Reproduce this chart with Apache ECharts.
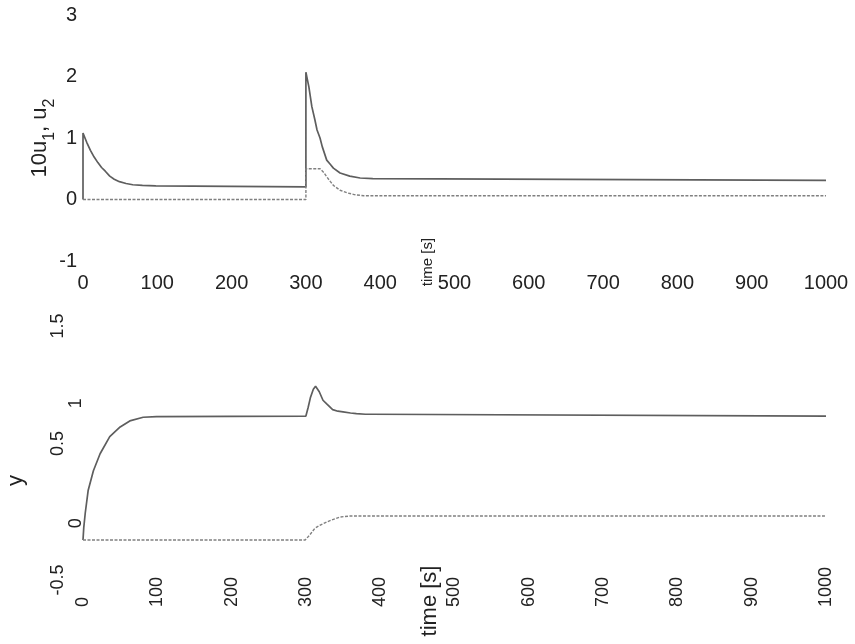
<!DOCTYPE html>
<html>
<head>
<meta charset="utf-8">
<script src="https://cdn.jsdelivr.net/npm/echarts@6/dist/echarts.min.js"></script>
<style>
html,body{margin:0;padding:0;background:#fff;}
#chart{width:855px;height:644px;}
</style>
</head>
<body>
<div id="chart"></div>
<script>
// ---- data ----
const xTicks = [0, 100, 200, 300, 400, 500, 600, 700, 800, 900, 1000];
const topYTicks = [-1, 0, 1, 2, 3];
const botYTicks = [-0.5, 0, 0.5, 1, 1.5];

// top panel, solid: 10*u1
const tTopSolid = [0, 0, 5, 10, 15, 20, 25, 30, 36, 42, 49, 58, 67, 80, 98, 100, 300, 300, 302, 304, 308, 312, 315, 319, 322, 328, 333, 337, 346, 359, 373, 390, 392, 1000];
const vTopSolid = [0, 1.08, 0.93, 0.80, 0.69, 0.60, 0.52, 0.46, 0.38, 0.33, 0.29, 0.26, 0.24, 0.23, 0.22, 0.205, 0.205, 2.07, 1.95, 1.83, 1.51, 1.30, 1.13, 1.00, 0.86, 0.64, 0.57, 0.51, 0.43, 0.38, 0.35, 0.34, 0.31, 0.31];

// top panel, dashed: u2
const tTopDash = [0, 300, 300, 319, 324, 328, 333, 337, 346, 355, 365, 378, 1000];
const vTopDash = [0, 0, 0.50, 0.50, 0.44, 0.37, 0.29, 0.23, 0.15, 0.11, 0.08, 0.06, 0.06];

// bottom panel, solid: y
const tBotSolid = [0, 1, 3, 7, 14, 23, 36, 50, 63, 81, 99, 100, 300, 303, 306, 310, 313, 318, 323, 328, 336, 343, 350, 360, 368, 380, 388, 390, 1000];
const vBotSolid = [-0.22, -0.12, 0.0, 0.19, 0.35, 0.49, 0.63, 0.71, 0.76, 0.79, 0.795, 0.80, 0.80, 0.87, 0.95, 1.02, 1.045, 1.00, 0.93, 0.90, 0.853, 0.84, 0.834, 0.825, 0.82, 0.815, 0.815, 0.80, 0.80];

// bottom panel, dashed
const tBotDash = [0, 299, 305, 312, 320, 328, 337, 346, 359, 1000];
const vBotDash = [-0.22, -0.22, -0.18, -0.124, -0.095, -0.072, -0.05, -0.031, -0.023, -0.023];

const pairs = (ts, vs) => ts.map((t, i) => [t, vs[i]]);

const FONT = 'Liberation Sans, Arial, sans-serif';
const TXT = '#222';

const chart = echarts.init(document.getElementById('chart'), null, {renderer: 'canvas'});

const hiddenAxisParts = {
  axisLine: {show: false},
  axisTick: {show: false},
  splitLine: {show: false},
  nameMoveOverlap: false
};

const botLabelStyle = {
  a15: {padding: [0, 0, 18, 10]},
  a1: {padding: [0, 23, 0, 0]},
  a05: {padding: [0, 0, 18, 18]},
  a0: {padding: [0, 20, 0, 0]},
  an05: {padding: [0, 12, 18, 0]}
};
Object.keys(botLabelStyle).forEach(k => {
  botLabelStyle[k].fontSize = 18;
  botLabelStyle[k].fontFamily = FONT;
  botLabelStyle[k].color = TXT;
});
const botLabelKey = {'1.5': 'a15', '1': 'a1', '0.5': 'a05', '0': 'a0', '-0.5': 'an05'};
const plain = v => String(v);

chart.setOption({
  animation: false,
  backgroundColor: '#fff',
  grid: [
    {left: 83, right: 29, top: 15, height: 246, outerBoundsMode: 'none', containLabel: false},
    {left: 83, right: 29, top: 331, height: 243, outerBoundsMode: 'none', containLabel: false}
  ],
  xAxis: [
    Object.assign({
      type: 'value', gridIndex: 0, min: xTicks[0], max: xTicks[xTicks.length - 1], interval: xTicks[1] - xTicks[0],
      axisLabel: {fontSize: 20, fontFamily: FONT, color: TXT, margin: 12, formatter: plain},
      name: 'time [s]', nameLocation: 'middle', nameRotate: 90, nameGap: 1,
      nameTextStyle: {fontSize: 15, fontFamily: FONT, color: TXT, align: 'center', verticalAlign: 'bottom', lineHeight: 53}
    }, hiddenAxisParts),
    Object.assign({
      type: 'value', gridIndex: 1, min: xTicks[0], max: xTicks[xTicks.length - 1], interval: xTicks[1] - xTicks[0],
      axisLabel: {fontSize: 18, fontFamily: FONT, color: TXT, rotate: 90, align: 'left', verticalAlign: 'middle', margin: 33, formatter: plain},
      name: 'time [s]', nameLocation: 'middle', nameRotate: 90, nameGap: 27,
      nameTextStyle: {fontSize: 22, fontFamily: FONT, color: TXT, align: 'center', verticalAlign: 'bottom', lineHeight: 49}
    }, hiddenAxisParts)
  ],
  yAxis: [
    Object.assign({
      type: 'value', gridIndex: 0, min: topYTicks[0], max: topYTicks[topYTicks.length - 1], interval: topYTicks[1] - topYTicks[0],
      axisLabel: {fontSize: 20, fontFamily: FONT, color: TXT, margin: 6, formatter: plain},
      name: '{m|10u}{s|1}{m|, u}{s|2}', nameLocation: 'middle', nameRotate: 90, nameGap: 43,
      nameTextStyle: {
        fontSize: 22, fontFamily: FONT, color: TXT, align: 'center', verticalAlign: 'middle',
        rich: {
          m: {fontSize: 22, fontFamily: FONT, color: TXT, lineHeight: 36},
          s: {fontSize: 16, fontFamily: FONT, color: TXT, lineHeight: 12, verticalAlign: 'bottom'}
        }
      }
    }, hiddenAxisParts),
    Object.assign({
      type: 'value', gridIndex: 1, min: botYTicks[0], max: botYTicks[botYTicks.length - 1], interval: botYTicks[1] - botYTicks[0],
      axisLabel: {
        fontSize: 18, fontFamily: FONT, color: TXT, rotate: 90, align: 'center', verticalAlign: 'bottom', margin: -2,
        formatter: function (v) {
          const s = String(v);
          const k = botLabelKey[s];
          return k ? '{' + k + '|' + s + '}' : s;
        },
        rich: botLabelStyle
      },
      name: 'y', nameLocation: 'middle', nameRotate: 90, nameGap: 67,
      nameTextStyle: {fontSize: 22, fontFamily: FONT, color: TXT, align: 'center', verticalAlign: 'middle', padding: [0, 56, 0, 0]}
    }, hiddenAxisParts)
  ],
  series: [
    {type: 'line', xAxisIndex: 0, yAxisIndex: 0, data: pairs(tTopSolid, vTopSolid), showSymbol: false,
      lineStyle: {color: '#5e5e5e', width: 1.7}},
    {type: 'line', xAxisIndex: 0, yAxisIndex: 0, data: pairs(tTopDash, vTopDash), showSymbol: false,
      lineStyle: {color: '#808080', width: 1.4, type: [3, 1.5]}},
    {type: 'line', xAxisIndex: 1, yAxisIndex: 1, data: pairs(tBotSolid, vBotSolid), showSymbol: false,
      lineStyle: {color: '#5e5e5e', width: 1.7}},
    {type: 'line', xAxisIndex: 1, yAxisIndex: 1, data: pairs(tBotDash, vBotDash), showSymbol: false,
      lineStyle: {color: '#808080', width: 1.4, type: [3, 1.5]}}
  ]
});
</script>
</body>
</html>
